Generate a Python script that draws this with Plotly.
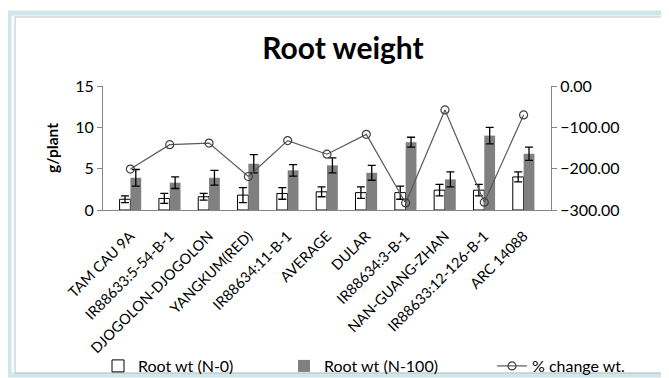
import plotly.graph_objects as go

categories = ["TAM CAU 9A", "IR88633:5-54-B-1", "DJOGOLON-DJOGOLON", "YANGKUM(RED)",
              "IR88634:11-B-1", "AVERAGE", "DULAR", "IR88634:3-B-1",
              "NAN-GUANG-ZHAN", "IR88633:12-126-B-1", "ARC 14088"]
root_n0 = [1.3, 1.4, 1.6, 1.8, 2.0, 2.2, 2.1, 2.1, 2.4, 2.4, 4.0]
root_n0_err = [0.4, 0.6, 0.4, 0.9, 0.7, 0.6, 0.7, 0.8, 0.7, 0.7, 0.6]
root_n100 = [3.9, 3.3, 3.9, 5.6, 4.8, 5.4, 4.5, 8.2, 3.7, 9.0, 6.8]
root_n100_err = [1.0, 0.7, 0.9, 1.1, 0.7, 0.9, 0.9, 0.6, 0.9, 1.0, 0.8]
pct_change = [-201, -142, -138, -219, -132, -165, -117, -283, -58, -281, -70]

FONT = "Lato, 'Open Sans', sans-serif"
OFF = 8                      # page body margin of the html page
W, H = 669 - OFF, 378 - OFF  # figure size so it fits in the window

fig = go.Figure()
fig.add_trace(go.Bar(
    x=categories, y=root_n0, name="Root wt (N-0)", showlegend=True,
    marker=dict(color="white", line=dict(color="black", width=1)),
    error_y=dict(type="data", array=root_n0_err, color="black", thickness=1.3, width=4),
    legend="legend"))
fig.add_trace(go.Bar(
    x=categories, y=root_n100, name="Root wt (N-100)", showlegend=True,
    marker=dict(color="#808080", line=dict(color="#808080", width=0)),
    error_y=dict(type="data", array=root_n100_err, color="black", thickness=1.3, width=4),
    legend="legend2"))
fig.add_trace(go.Scatter(
    x=categories, y=pct_change, name="% change wt.", yaxis="y2", showlegend=True,
    mode="lines+markers",
    line=dict(color="#595959", width=1.2),
    marker=dict(symbol="circle-open", size=8, color="#404040", line=dict(width=1.2)),
    legend="legend3"))

# plot-area placement in page pixels
L, R, T, B = 103 - OFF, 551 - OFF, 86 - OFF, 210 - OFF
def px(x):
    return (x - OFF - L) / (R - L)
def py(y):
    return (B - (y - OFF)) / (B - T)
def cx(x):
    return (x - OFF) / W
def cy(y):
    return 1 - (y - OFF) / H

shapes = [
    dict(type="rect", xref="paper", yref="paper", x0=px(9), x1=px(668), y0=py(375), y1=py(13),
         line=dict(color="#cfe6ea", width=5), fillcolor="rgba(0,0,0,0)", layer="below"),
    dict(type="rect", xref="paper", yref="paper", x0=px(15), x1=px(668), y0=py(373), y1=py(17),
         line=dict(color="#b8c4c6", width=1), fillcolor="rgba(0,0,0,0)", layer="below"),
]

legend_common = dict(orientation="h", xref="container", yref="container", xanchor="left",
                     yanchor="middle", y=cy(366), font=dict(size=16, family=FONT),
                     bgcolor="rgba(0,0,0,0)", visible=True)

fig.update_layout(
    width=W, height=H, showlegend=True,
    margin=dict(l=L, r=W - R, t=T, b=H - B, autoexpand=False),
    paper_bgcolor="white", plot_bgcolor="white",
    font=dict(family=FONT, color="black"),
    title=dict(text="<b>Root weight</b>", x=cx(343), xanchor="center", xref="container",
               y=cy(48), yanchor="middle", yref="container",
               font=dict(size=30, family=FONT, color="black")),
    barmode="group", bargap=0.45, bargroupgap=0,
    xaxis=dict(showline=True, linecolor="#868686", linewidth=1, ticks="",
               tickangle=-45, tickfont=dict(size=14.5, family=FONT), showgrid=False,
               automargin=False, ticklabelstandoff=11),
    yaxis=dict(range=[0, 15], tickvals=[0, 5, 10, 15], showline=True, linecolor="#868686",
               ticks="outside", ticklen=5, tickcolor="#868686", showgrid=False, zeroline=False,
               tickfont=dict(size=16, family=FONT), automargin=False,
               title=dict(text="<b>g/plant</b>", font=dict(size=15.5, family=FONT), standoff=12)),
    yaxis2=dict(range=[-300, 0], tickvals=[-300, -200, -100, 0], tickformat=".2f",
                overlaying="y", side="right", showline=True, linecolor="#868686",
                ticks="outside", ticklen=5, tickcolor="#868686", showgrid=False, zeroline=False,
                tickfont=dict(size=16, family=FONT), automargin=False),
    legend=dict(x=cx(98), **legend_common),
    legend2=dict(x=cx(284), **legend_common),
    legend3=dict(x=cx(492), **legend_common),
    shapes=shapes,
)

fig.write_html("out.html")
